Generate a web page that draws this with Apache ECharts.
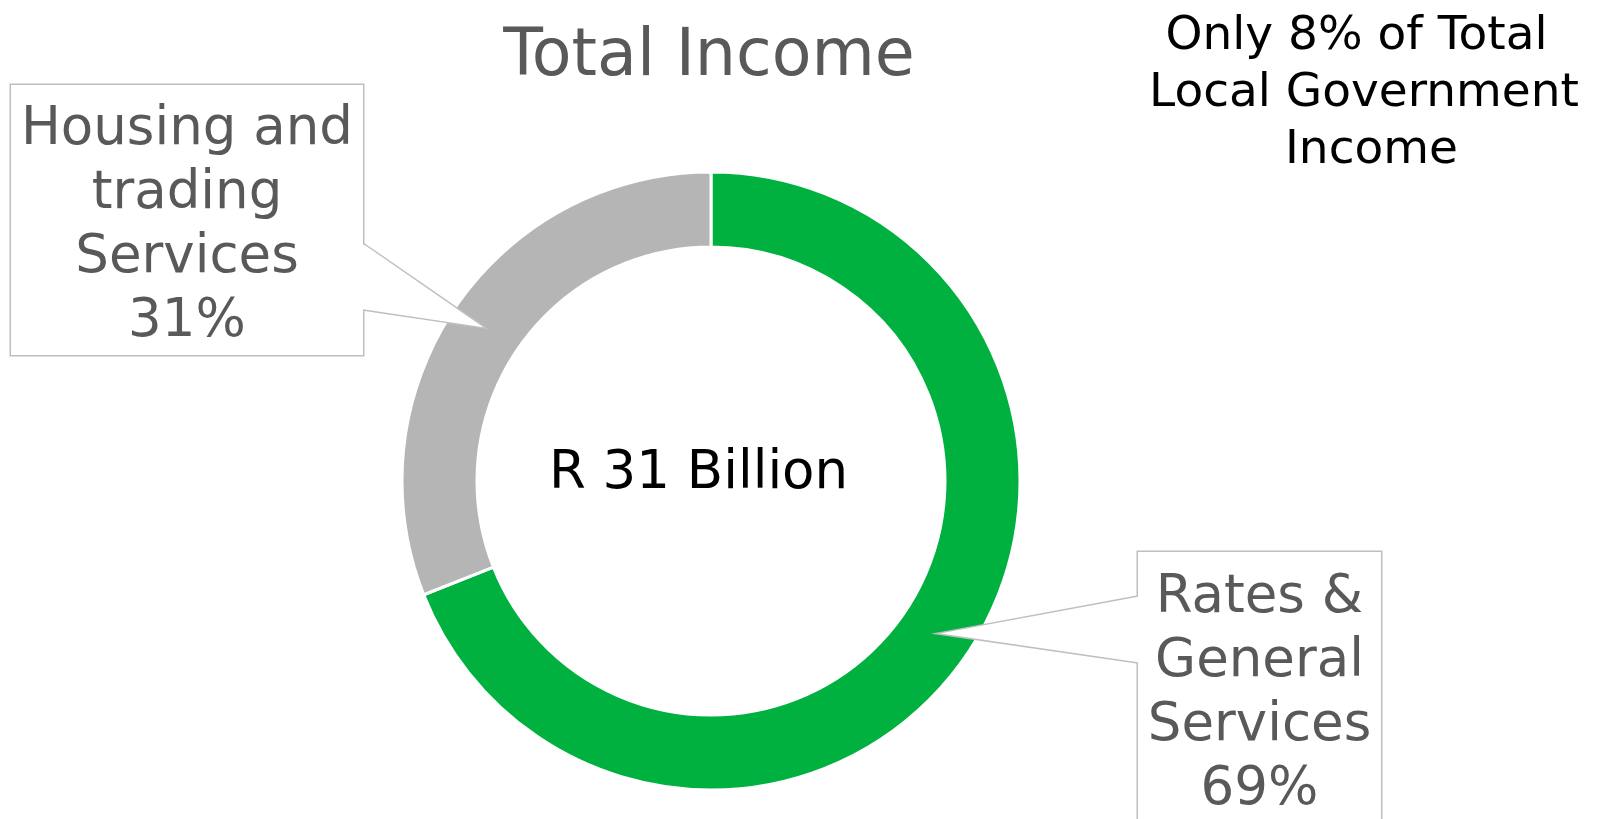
<!DOCTYPE html>
<html>
<head>
<meta charset="utf-8">
<script src="https://cdn.jsdelivr.net/npm/echarts@6/dist/echarts.min.js"></script>
<style>
html, body { margin: 0; padding: 0; background: #fff; }
#main { width: 1600px; height: 819px; }
</style>
</head>
<body>
<div id="main"></div>
<script>
// data
var categories = ['Rates &\nGeneral\nServices', 'Housing and\ntrading\nServices'];
var shares = [69, 31];
var colors = ['#00b140', '#b5b5b5'];
var centerText = 'R 31 Billion';
var noteLines = ['Only 8% of Total ', 'Local Government', ' Income'];

// callout boxes: centre x, top, width, the box edge the pointer leaves from and its two ends
var boxes = [
	{cx: 1259.5, top: 552, w: 243, pad: [14, 0, 6, 0], side: 1138, dir: 1, y1: 596, y2: 663},
	{cx: 187, top: 85, w: 352, pad: [13, 0, 1, 0], side: 363, dir: -1, y1: 243, y2: 310}
];

var font = 'DejaVu Sans';

function pieData() {
	var arr = [];
	for (var i = 0; i < categories.length; i++) {
		arr.push({
			name: categories[i],
			value: shares[i],
			itemStyle: {color: colors[i]},
			label: {width: boxes[i].w, padding: boxes[i].pad}
		});
	}
	return arr;
}

var myChart = echarts.init(document.getElementById('main'), null, {renderer: 'canvas'});

var option = {
	animation: false,
	backgroundColor: '#fff',
	title: [{
		text: 'Total Income',
		left: 709, top: 23, padding: 0,
		textAlign: 'center',
		textStyle: {fontFamily: font, fontSize: 65, lineHeight: 70, fontWeight: 'normal', color: '#595959'}
	}, {
		text: noteLines.join('\n'),
		left: 1364, top: 8, padding: 0,
		textAlign: 'center',
		textStyle: {fontFamily: font, fontSize: 47, lineHeight: 57, fontWeight: 'normal', color: '#000'}
	}, {
		text: centerText,
		left: 698.5, top: 442, padding: 0,
		textAlign: 'center',
		textStyle: {fontFamily: font, fontSize: 53, lineHeight: 64, fontWeight: 'normal', color: '#000'}
	}],
	series: [{
		type: 'pie',
		center: [711, 481],
		radius: [234, 309],
		startAngle: 90,
		clockwise: true,
		avoidLabelOverlap: false,
		emphasis: {disabled: true},
		itemStyle: {borderColor: '#fff', borderWidth: 3},
		label: {
			show: true,
			position: 'outside',
			formatter: function (p) { return p.name + '\n' + Math.round(p.percent) + '%'; },
			fontFamily: font,
			fontSize: 53,
			lineHeight: 64,
			color: '#595959',
			align: 'center',
			backgroundColor: '#fff',
			borderColor: '#bfbfbf',
			borderWidth: 1.5
		},
		labelLine: {show: false},
		labelLayout: function (params) {
			var b = boxes[params.dataIndex];
			return {x: b.cx, y: b.top, align: 'center', verticalAlign: 'top'};
		},
		data: pieData()
	}]
};
myChart.setOption(option);

// callout pointers: tip sits in the middle of each slice, taken from the pie layout
var seriesData = myChart.getModel().getSeriesByIndex(0).getData();
var els = [];
for (var i = 0; i < boxes.length; i++) {
	var lay = seriesData.getItemLayout(i);
	var mid = (lay.startAngle + lay.endAngle) / 2;
	var rm = (lay.r + lay.r0) / 2;
	var tip = [lay.cx + rm * Math.cos(mid), lay.cy + rm * Math.sin(mid)];
	var b = boxes[i];
	els.push({
		type: 'polygon', z: 100, silent: true,
		shape: {points: [[b.side + b.dir * 2, b.y1], tip, [b.side + b.dir * 2, b.y2]]},
		style: {fill: '#fff'}
	});
	els.push({
		type: 'polyline', z: 101, silent: true,
		shape: {points: [[b.side, b.y1], tip, [b.side, b.y2]]},
		style: {stroke: '#bfbfbf', lineWidth: 1.5, fill: null}
	});
}
myChart.setOption({graphic: {elements: els}});
</script>
</body>
</html>
